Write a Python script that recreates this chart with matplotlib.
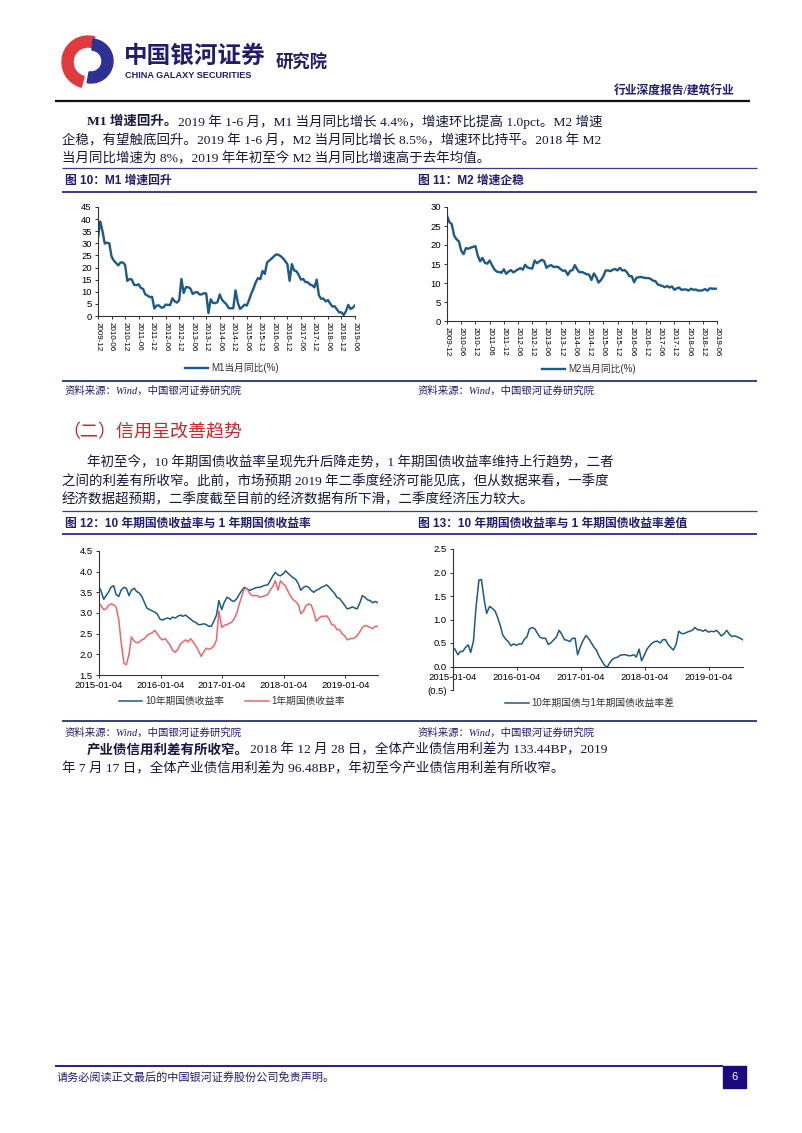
import matplotlib
matplotlib.use('Agg')
import matplotlib.pyplot as plt
from matplotlib.patches import Wedge, Rectangle
import numpy as np
import pandas as pd

W, H = 802, 1133
CJK = 'Noto Sans CJK SC'
SANS = ['Liberation Sans', CJK]
SERIF = ['Liberation Serif', CJK]
NAVY = '#221c6e'
BODY = '#17173f'
BOX = '#3b3b8e'
BLUE = '#1d5a86'
PINK = '#e9686c'

# ---- data: M1 / M2 monthly yoy (%), 2009-12 .. 2019-06
month_labels = ['2009-12', '2010-06', '2010-12', '2011-06', '2011-12', '2012-06', '2012-12',
                '2013-06', '2013-12', '2014-06', '2014-12', '2015-06', '2015-12', '2016-06',
                '2016-12', '2017-06', '2017-12', '2018-06', '2018-12', '2019-06']
m1 = [32.4,
      39.0, 35.0, 29.9, 30.3, 30.0, 24.6, 22.9, 21.9, 20.9, 22.1, 22.1, 21.2,
      14.5, 15.3, 15.0, 12.9, 12.7, 13.1, 11.6, 11.2, 8.9, 8.4, 7.8, 7.9,
      3.1, 4.3, 4.4, 3.5, 3.5, 4.7, 4.6, 4.5, 7.3, 6.1, 5.5, 6.5,
      15.3, 9.5, 11.9, 11.9, 11.3, 9.1, 9.7, 9.9, 8.9, 8.9, 9.4, 9.3,
      1.2, 6.9, 5.4, 5.3, 5.7, 8.9, 6.7, 5.7, 4.8, 3.2, 3.2, 3.2,
      10.6, 5.6, 2.9, 3.7, 4.7, 4.3, 6.6, 9.3, 11.4, 14.0, 15.7, 15.2,
      18.6, 17.4, 22.1, 22.9, 23.7, 24.6, 25.4, 25.3, 24.7, 23.9, 22.7, 21.4,
      14.5, 21.4, 18.8, 18.5, 17.0, 15.0, 15.3, 14.0, 14.0, 13.0, 12.7, 11.8,
      15.0, 8.5, 7.1, 7.2, 6.0, 6.6, 5.1, 3.9, 4.0, 2.7, 1.5, 1.5,
      0.4, 2.0, 4.6, 2.9, 3.4, 4.4]
m2 = [27.7,
      26.0, 25.5, 22.5, 21.5, 21.0, 18.5, 17.6, 19.2, 19.0, 19.3, 19.5, 19.7,
      17.2, 15.7, 16.6, 15.3, 15.1, 15.9, 14.7, 13.6, 13.0, 12.9, 12.7, 13.6,
      12.4, 13.0, 13.4, 12.8, 13.2, 13.6, 13.9, 13.5, 14.8, 14.1, 13.9, 13.8,
      15.9, 15.2, 15.7, 16.1, 15.8, 14.0, 14.5, 14.7, 14.2, 14.3, 14.2, 13.6,
      13.2, 13.3, 12.1, 13.2, 13.4, 14.7, 13.5, 12.8, 12.9, 12.6, 12.3, 12.2,
      10.8, 12.5, 11.6, 10.1, 10.8, 11.8, 13.3, 13.3, 13.1, 13.5, 13.7, 13.3,
      14.0, 13.3, 13.4, 12.8, 11.8, 11.8, 10.2, 11.4, 11.5, 11.6, 11.4, 11.3,
      11.3, 11.1, 10.6, 10.5, 9.6, 9.4, 9.2, 8.9, 9.2, 8.8, 9.1, 8.2,
      8.6, 8.8, 8.2, 8.3, 8.3, 8.0, 8.5, 8.2, 8.3, 8.0, 8.0, 8.1,
      8.4, 8.0, 8.6, 8.5, 8.5, 8.5]

# ---- data: government bond yields (%), semi-monthly readings 2015-01 .. 2019-07
bond_dates = pd.date_range('2015-01-01', '2019-07-15', freq='SMS')
ten_year = [3.65, 3.55, 3.33, 3.42, 3.50, 3.62, 3.66, 3.45, 3.40, 3.55, 3.62, 3.60,
            3.42, 3.55, 3.60, 3.52, 3.48, 3.40, 3.25, 3.12, 3.08, 3.05, 3.02, 2.98,
            2.85, 2.83, 2.86, 2.88, 2.85, 2.90, 2.88, 2.92, 2.95, 2.92, 2.95, 2.90,
            2.85, 2.80, 2.77, 2.72, 2.72, 2.74, 2.72, 2.68, 2.68, 2.80, 2.95, 3.30,
            3.08, 3.25, 3.38, 3.35, 3.30, 3.28, 3.35, 3.45, 3.55, 3.62, 3.58, 3.55,
            3.57, 3.60, 3.62, 3.62, 3.65, 3.67, 3.68, 3.78, 3.90, 3.98, 3.92, 3.90,
            3.95, 4.02, 3.95, 3.90, 3.85, 3.82, 3.70, 3.55, 3.62, 3.65, 3.62, 3.55,
            3.50, 3.55, 3.58, 3.62, 3.65, 3.68, 3.62, 3.55, 3.48, 3.38, 3.35, 3.28,
            3.18, 3.10, 3.12, 3.15, 3.12, 3.10, 3.25, 3.42, 3.38, 3.32, 3.30, 3.25,
            3.28, 3.25]
one_year = [3.25, 3.18, 3.08, 3.10, 3.18, 3.22, 3.20, 3.15, 2.85, 2.30, 1.78, 1.75,
            2.00, 2.42, 2.32, 2.28, 2.30, 2.35, 2.38, 2.45, 2.50, 2.52, 2.58, 2.50,
            2.40, 2.35, 2.38, 2.30, 2.22, 2.10, 2.05, 2.12, 2.25, 2.30, 2.35, 2.30,
            2.38, 2.30, 2.20, 2.10, 1.95, 2.05, 2.15, 2.12, 2.15, 2.20, 2.35, 3.05,
            2.65, 2.70, 2.72, 2.75, 2.78, 2.85, 3.00, 3.22, 3.42, 3.58, 3.60, 3.48,
            3.42, 3.42, 3.42, 3.38, 3.40, 3.42, 3.45, 3.55, 3.65, 3.78, 3.55, 3.78,
            3.70, 3.65, 3.50, 3.40, 3.32, 3.28, 3.20, 2.98, 3.05, 3.18, 3.22, 3.20,
            3.02, 2.80, 2.88, 2.92, 2.92, 2.93, 2.85, 2.72, 2.70, 2.60, 2.60, 2.50,
            2.45, 2.35, 2.38, 2.38, 2.40, 2.45, 2.55, 2.65, 2.70, 2.68, 2.65, 2.62,
            2.68, 2.68]
spread = np.array(ten_year) - np.array(one_year)
year_ticks = ['2015-01-04', '2016-01-04', '2017-01-04', '2018-01-04', '2019-01-04']
bond_start, bond_end = '2015-01-04', '2019-07-17'

fig = plt.figure(figsize=(W / 100, H / 100), dpi=100)
page = fig.add_axes([0, 0, 1, 1])
page.set_xlim(0, W)
page.set_ylim(H, 0)
page.axis('off')
renderer = fig.canvas.get_renderer()

BODY_SIZE = 9.7


def txt(x, y, s, size=BODY_SIZE, weight='normal', color=BODY, family=SERIF, style='normal', ha='left'):
    return page.text(x, y, s, fontsize=size, fontweight=weight, color=color, family=family,
                     fontstyle=style, ha=ha, va='center')


def para(x, y, bold, rest):
    t = txt(x, y, bold, weight='bold')
    w = t.get_window_extent(renderer).width
    txt(x + w + 1, y, rest)


def hline(y, x0=62, x1=757, color=BOX, lw=1.2):
    page.plot([x0, x1], [y, y], color=color, lw=lw, solid_capstyle='butt')


def box(l, t, r, b):
    return [l / W, 1 - b / H, (r - l) / W, (b - t) / H]


# ---- header / logo
page.add_patch(Wedge((88, 62), 26, 105, 285, width=11, color='#e03a3e'))
page.add_patch(Wedge((91, 61), 22, -85, 100, width=11, color='#2e3192'))
txt(124, 56, '中国银河证券', size=17, weight='bold', color=NAVY, family=SANS)
txt(125, 76, 'CHINA GALAXY SECURITIES', size=6.6, weight='bold', color=NAVY, family=SANS)
txt(276, 62, '研究院', size=12.5, weight='bold', color=NAVY, family=SANS)
txt(735, 91, '行业深度报告/建筑行业', size=8.5, weight='bold', color=NAVY, family=SERIF, ha='right')
hline(101, 55, 750, color='#111111', lw=1.6)

# ---- paragraph 1
para(87, 122, 'M1 增速回升。', '2019 年 1-6 月，M1 当月同比增长 4.4%，增速环比提高 1.0pct。M2 增速')
txt(62, 141, '企稳，有望触底回升。2019 年 1-6 月，M2 当月同比增长 8.5%，增速环比持平。2018 年 M2')
txt(62, 159, '当月同比增速为 8%，2019 年年初至今 M2 当月同比增速高于去年均值。')

# ---- figure block 1
hline(168, lw=0.9)
txt(65, 181, '图 10：M1 增速回升', size=8.5, weight='bold', color=NAVY, family=SANS)
txt(418, 181, '图 11：M2 增速企稳', size=8.5, weight='bold', color=NAVY, family=SANS)
hline(192, lw=1.4)
hline(381, lw=1.4)
txt(65, 391, '资料来源：Wind，中国银河证券研究院', size=7.5, color=NAVY, style='italic')
txt(418, 391, '资料来源：Wind，中国银河证券研究院', size=7.5, color=NAVY, style='italic')

# ---- section 2
txt(62, 433, '（二）信用呈改善趋势', size=13, color='#c8282d', family=SERIF)
txt(87, 463, '年初至今，10 年期国债收益率呈现先升后降走势，1 年期国债收益率维持上行趋势，二者')
txt(62, 482, '之间的利差有所收窄。此前，市场预期 2019 年二季度经济可能见底，但从数据来看，一季度')
txt(62, 500, '经济数据超预期，二季度截至目前的经济数据有所下滑，二季度经济压力较大。')

hline(511, lw=0.9)
txt(65, 524, '图 12：10 年期国债收益率与 1 年期国债收益率', size=8.5, weight='bold', color=NAVY, family=SANS)
txt(418, 524, '图 13：10 年期国债收益率与 1 年期国债收益率差值', size=8.5, weight='bold', color=NAVY, family=SANS)
hline(534, lw=1.4)
hline(721, lw=1.4)
txt(65, 733, '资料来源：Wind，中国银河证券研究院', size=7.5, color=NAVY, style='italic')
txt(418, 733, '资料来源：Wind，中国银河证券研究院', size=7.5, color=NAVY, style='italic')

para(87, 750, '产业债信用利差有所收窄。', '2018 年 12 月 28 日，全体产业债信用利差为 133.44BP，2019')
txt(62, 769, '年 7 月 17 日，全体产业债信用利差为 96.48BP，年初至今产业债信用利差有所收窄。')

# ---- footer
hline(1066, 55, 723, color='#1a0a80', lw=1.3)
page.add_patch(Rectangle((723, 1066), 23, 22, color='#1a0a80'))
txt(734.5, 1077, '6', size=8, color='white', family=SANS, ha='center')
txt(57, 1078, '请务必阅读正文最后的中国银河证券股份公司免责声明。', size=8, color=NAVY)


def style_axes(ax, size=6.8):
    for s in ['top', 'right']:
        ax.spines[s].set_visible(False)
    for s in ['left', 'bottom']:
        ax.spines[s].set_color('#333333')
        ax.spines[s].set_linewidth(0.8)
    ax.tick_params(length=2.5, width=0.7, color='#333333', labelsize=size, pad=2)
    for lab in ax.get_xticklabels() + ax.get_yticklabels():
        lab.set_family(SANS)
    ax.patch.set_alpha(0)


def legend(ax, cx, cy, ncol=1):
    lg = ax.legend(loc='center', bbox_to_anchor=(cx / W, 1 - cy / H), bbox_transform=fig.transFigure,
                   frameon=False, ncol=ncol, handlelength=2.4, handletextpad=0.3, columnspacing=2.2,
                   prop={'family': SANS, 'size': 7})
    for t in lg.get_texts():
        t.set_color('#333333')


# ---- chart 10: M1
idx = np.arange(len(m1))
ax1 = fig.add_axes(box(98, 207, 355, 316))
ax1.plot(idx, m1, color=BLUE, lw=1.7, label='M1当月同比(%)')
ax1.set_xlim(0, len(m1) - 1)
ax1.set_ylim(0, 45)
ax1.set_yticks(range(0, 46, 5))
ax1.set_xticks(idx[::6])
ax1.set_xticklabels(month_labels, rotation=270)
style_axes(ax1)
ax1.tick_params(axis='x', labelsize=5.8)
legend(ax1, 232, 368)

# ---- chart 11: M2
ax2 = fig.add_axes(box(447, 207, 717, 321))
ax2.plot(idx, m2, color=BLUE, lw=1.7, label='M2当月同比(%)')
ax2.set_xlim(0, len(m2) - 1)
ax2.set_ylim(0, 30)
ax2.set_yticks(range(0, 31, 5))
ax2.set_xticks(idx[::6])
ax2.set_xticklabels(month_labels, rotation=270)
style_axes(ax2)
ax2.tick_params(axis='x', labelsize=5.8)
legend(ax2, 589, 369)

# ---- chart 12: yields
tick_dates = pd.to_datetime(year_ticks)
ax3 = fig.add_axes(box(99, 551, 378, 675))
ax3.plot(bond_dates, ten_year, color=BLUE, lw=1.1, label='10年期国债收益率')
ax3.plot(bond_dates, one_year, color=PINK, lw=1.1, label='1年期国债收益率')
ax3.set_xlim(pd.Timestamp(bond_start), pd.Timestamp(bond_end))
ax3.set_ylim(1.5, 4.5)
ax3.set_yticks(np.arange(1.5, 4.51, 0.5))
ax3.set_yticklabels([f'{v:.1f}' for v in np.arange(1.5, 4.51, 0.5)])
ax3.set_xticks(tick_dates)
ax3.set_xticklabels(year_ticks)
style_axes(ax3)
legend(ax3, 232, 701, ncol=2)

# ---- chart 13: spread
ax4 = fig.add_axes(box(453, 549, 743, 690))
ax4.plot(bond_dates, spread, color=BLUE, lw=1.1, label='10年期国债与1年期国债收益率差')
ax4.set_xlim(pd.Timestamp(bond_start), pd.Timestamp(bond_end))
ax4.set_ylim(-0.5, 2.5)
yt = np.arange(-0.5, 2.51, 0.5)
ax4.set_yticks(yt)
ax4.set_yticklabels([f'({abs(v):.1f})' if v < 0 else f'{v:.1f}' for v in yt])
ax4.set_xticks(tick_dates)
ax4.set_xticklabels(year_ticks)
ax4.spines['bottom'].set_position(('data', 0))
style_axes(ax4)
legend(ax4, 590, 703)

fig.savefig('out.png', dpi=100)
